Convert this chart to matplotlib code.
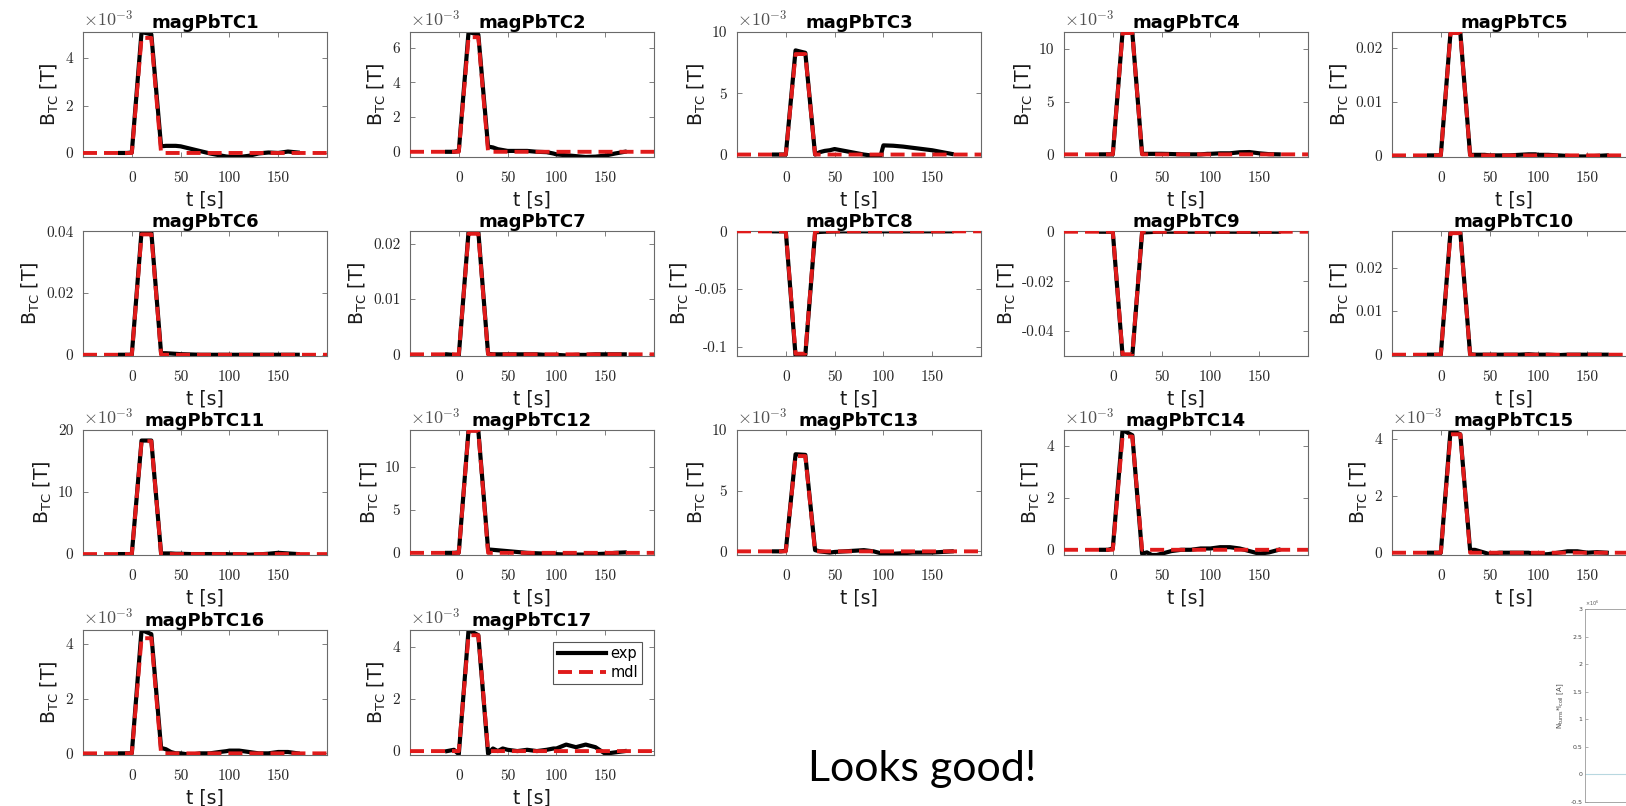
import matplotlib
matplotlib.use('Agg')
import matplotlib.pyplot as plt
from matplotlib.ticker import MaxNLocator, FuncFormatter, FixedLocator, MultipleLocator

plt.rcParams['axes.unicode_minus'] = False

# ---------------- data ----------------
names = ['magPbTC%d' % i for i in range(1, 18)]
t_exp = [-12, -5, 0, 10, 20, 30, 35, 40, 45, 50, 60, 70, 80, 90, 97, 100,
         110, 120, 130, 140, 150, 160, 170]
t_mdl = [-50, 0, 10, 20, 30, 200]
mdl_shape = [0, 0, 1, 1, 0, 0]

# exp values in displayed units (mT where the axis shows x10^-3, else T)
exp1 = [0, 0, 0.02, 5.1, 5.0, 0.28, 0.3, 0.3, 0.3, 0.28, 0.18, 0.08, -0.02, -0.1,
        -0.15, -0.16, -0.17, -0.12, -0.02, 0.02, 0.0, 0.06, 0.02]
exp2 = [0, 0, 0.05, 6.9, 6.75, 0.3, 0.25, 0.15, 0.1, 0.05, 0.05, 0.05, 0.0, -0.02,
        -0.1, -0.15, -0.2, -0.25, -0.3, -0.28, -0.22, -0.1, 0.0]
exp3 = [0, 0, 0, 8.5, 8.3, 0.0, 0.2, 0.3, 0.35, 0.45, 0.3, 0.15, 0.0, -0.1,
        -0.15, 0.75, 0.72, 0.65, 0.55, 0.45, 0.35, 0.2, 0.05]
exp4 = [0, 0, 0.0, 11.6, 11.55, 0.05, 0.05, 0.05, 0.05, 0.05, 0.03, 0.0, 0.0, 0.0,
        0.05, 0.05, 0.1, 0.1, 0.2, 0.22, 0.1, 0.02, 0.0]
exp5 = [0, 0, 0.0, 0.0230, 0.0229, 0.0001, 0.0001, 0.0001, 0.0001, 0.0, 0.0, 0.0,
        0.0001, 0.0002, 0.0002, 0.0001, 0.0001, 0.0, -0.0001, -0.0002, -0.0002,
        -0.0001, 0.0]
exp6 = [0, 0, 0.0, 0.0400, 0.0398, 0.0005, 0.0005, 0.0004, 0.0003, 0.0002, 0.0001,
        0.0, 0.0, 0.0, 0.0, 0.0, 0.0, 0.0, 0.0, 0.0, 0.0, 0.0, 0.0]
exp7 = [0, -0.0001, -0.0002, 0.0222, 0.0222, 0.0001, 0.0, 0.0, 0.0, 0.0, 0.0, 0.0,
        0.0, -0.0001, -0.0001, -0.0001, -0.0002, -0.0001, -0.0001, 0.0, 0.0, 0.0, 0.0]
exp8 = [0, 0, 0.0, -0.108, -0.107, -0.001, -0.0005, -0.0003, -0.0002, -0.0001, 0.0,
        0.0, 0.0, 0.0, 0.0, 0.0, 0.0, 0.0, 0.0, 0.0, 0.0, 0.0, 0.0]
exp9 = [0, 0, 0.0, -0.0500, -0.0500, -0.0003, -0.0002, -0.0001, 0.0, 0.0, 0.0,
        0.0, 0.0, 0.0, 0.0, 0.0, 0.0, 0.0, 0.0, 0.0, 0.0, 0.0, 0.0]
exp10 = [0, 0, 0.0, 0.0284, 0.0282, 0.0001, 0.0, 0.0, 0.0, 0.0, 0.0, 0.0, 0.0,
         0.0001, 0.0, 0.0, 0.0, -0.0001, 0.0, 0.0, 0.0, 0.0, 0.0]
exp11 = [0, 0, 0, 18.3, 18.3, 0.1, 0.1, 0.1, 0.05, 0.05, 0.0, 0.0, 0.0, 0.0, 0.0,
         -0.05, -0.05, -0.1, -0.05, 0.05, 0.2, 0.1, 0.0]
exp12 = [0, 0, 0.05, 14.3, 14.25, 0.4, 0.35, 0.3, 0.25, 0.2, 0.1, 0.0, -0.05, -0.1,
         -0.15, -0.15, -0.2, -0.2, -0.2, -0.15, -0.1, 0.0, 0.05]
exp13 = [0, 0, 0.05, 8.0, 7.95, 0.1, 0.0, -0.05, -0.1, -0.05, 0.0, 0.05, 0.1, 0.0,
         -0.15, -0.2, -0.2, -0.15, -0.1, -0.1, -0.1, -0.05, 0.0]
exp14 = [0, 0, 0.05, 4.6, 4.4, -0.15, -0.1, -0.2, -0.2, -0.15, -0.05, 0.0, 0.0, 0.05,
         0.05, 0.05, 0.1, 0.1, 0.05, -0.05, -0.15, -0.1, 0.0]
exp15 = [0, 0, 0.0, 4.3, 4.15, 0.1, 0.1, 0.05, 0.0, -0.05, 0.0, 0.0, 0.0, 0.0,
         -0.05, -0.07, -0.05, 0.0, 0.05, 0.05, 0.0, 0.02, 0.0]
exp16 = [0, 0, 0.0, 4.5, 4.35, 0.2, 0.15, 0.05, 0.0, 0.0, -0.05, 0.0, 0.0, 0.05,
         0.08, 0.1, 0.1, 0.05, 0.0, 0.0, 0.05, 0.05, 0.0]
exp17 = [0.0, 0.05, -0.12, 4.65, 4.45, -0.1, 0.1, 0.0, 0.1, 0.05, 0.0, 0.05, 0.0,
         0.05, 0.1, 0.1, 0.25, 0.15, 0.25, 0.15, -0.1, -0.05, 0.0]
exp_all = [exp1, exp2, exp3, exp4, exp5, exp6, exp7, exp8, exp9, exp10, exp11,
           exp12, exp13, exp14, exp15, exp16, exp17]

mdl_peak = [4.85, 6.6, 8.2, 11.5, 0.0228, 0.039, 0.0218, -0.106, -0.0495, 0.0279,
            18.2, 14.2, 7.85, 4.35, 4.15, 4.2, 4.45]
y_exp = [-3, -3, -3, -3, 0, 0, 0, 0, 0, 0, -3, -3, -3, -3, -3, -3, -3]
y_lo = [-0.17, -0.3, -0.2, -0.25, -0.0003, -0.0004, -0.0003, -0.108, -0.0502, -0.0003,
        -0.15, -0.25, -0.3, -0.2, -0.08, -0.06, -0.15]
y_hi = [5.1, 6.9, 10.0, 11.6, 0.0230, 0.0401, 0.0223, 0.0003, 0.0003, 0.0284,
        20.0, 14.3, 10.0, 4.6, 4.3, 4.5, 4.65]
x_ticks = [0, 50, 100, 150]
x_lim = [-50, 200]

coil_t = [-50, 200]
coil_I = [0, 0]

# ---------------- figure ----------------
W, H = 1626, 806
fig = plt.figure(figsize=(W / 100, H / 100), dpi=100)
fig.patch.set_facecolor('white')

col_left = [83, 410, 737, 1064, 1392]
row_top = [32, 231, 430, 630]
aw, ah = 244, 125

frame_c = '#6a6a6a'
tick_c = '#262626'
red = '#e01b1b'

fmt = FuncFormatter(lambda v, p: '0' if abs(v) < 1e-12 else '%g' % v)

for i in range(17):
    r, c = divmod(i, 5)
    ax = fig.add_axes([col_left[c] / W, 1 - (row_top[r] + ah) / H, aw / W, ah / H])
    l1, = ax.plot(t_exp, exp_all[i], color='black', lw=3.0, solid_joinstyle='round',
                  label='exp', zorder=2)
    mdl = [mdl_peak[i] * s for s in mdl_shape]
    l2, = ax.plot(t_mdl, mdl, color=red, lw=2.8, linestyle=(0, (3.6, 1.8)),
                  label='mdl', zorder=3)
    ax.set_xlim(x_lim)
    ax.set_ylim(y_lo[i], y_hi[i])
    ax.xaxis.set_major_locator(FixedLocator(x_ticks))
    ax.yaxis.set_major_locator(MaxNLocator(nbins=4, steps=[1, 2, 5, 10]))
    ax.xaxis.set_major_formatter(fmt)
    ax.yaxis.set_major_formatter(fmt)
    ax.tick_params(direction='in', top=True, right=True, length=3.5, width=0.6,
                   color=frame_c, labelcolor=tick_c, labelsize=11, pad=7,
                   labelfontfamily='cmr10')
    ax.tick_params(axis='x', pad=10)
    for sp in ax.spines.values():
        sp.set_color(frame_c)
        sp.set_linewidth(0.8)
    ax.set_title(names[i], fontweight='bold', fontsize=13, pad=3, color='black')
    ax.set_xlabel('t [s]', fontsize=13.5, labelpad=4, color='#1a1a1a')
    ax.set_ylabel(r'B$_{\rm TC}$ [T]', fontsize=13.5, labelpad=3, color='#1a1a1a')
    if y_exp[i] != 0:
        ax.text(0.0, 1.012, r'$\times10^{%d}$' % y_exp[i], transform=ax.transAxes,
                ha='left', va='bottom', fontsize=13, color='#505050',
                math_fontfamily='cm')
    if i == 16:
        leg = ax.legend(handles=[l1, l2], loc='upper right', fontsize=10.5,
                        handlelength=3.3, handletextpad=0.3, borderaxespad=0.8,
                        fancybox=False, framealpha=1, edgecolor='#555555',
                        borderpad=0.3, labelspacing=0.25)
        leg.get_frame().set_linewidth(0.8)

# cropped small plot at bottom right
axs = fig.add_axes([1585 / W, 1 - 802 / H, 120 / W, (802 - 609) / H])
axs.plot(coil_t, [v * 1e6 for v in coil_I], color='#b8d8e0', lw=0.8)
axs.set_xlim(-50, 200)
axs.set_ylim(-0.5e6, 3e6)
axs.yaxis.set_major_locator(MultipleLocator(0.5e6))
axs.yaxis.set_major_formatter(FuncFormatter(lambda v, p: '%g' % (v / 1e6)))
axs.set_xticks([])
axs.tick_params(direction='in', length=2, width=0.4, color='#777777',
                labelcolor='#444444', labelsize=4.5, pad=2)
for sp in axs.spines.values():
    sp.set_color('#999999')
    sp.set_linewidth(0.6)
axs.set_ylabel(r'N$_{\rm turns}$*I$_{\rm coil}$ [A]', fontsize=5, labelpad=3,
               color='#444444')
axs.text(0.0, 1.005, r'$\times10^{6}$', transform=axs.transAxes, ha='left',
         va='bottom', fontsize=3.5, color='#555555')

fig.text(808 / W, 1 - 781 / H, 'Looks good!', fontfamily='Lato', fontsize=31,
         ha='left', va='baseline', color='black')

fig.savefig('out.png', dpi=100, facecolor='white')
